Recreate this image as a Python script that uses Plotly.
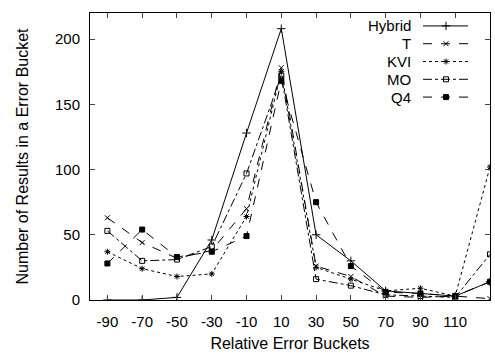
import plotly.graph_objects as go

buckets = [-90, -70, -50, -30, -10, 10, 30, 50, 70, 90, 110, 130]
tick_vals = [-90, -70, -50, -30, -10, 10, 30, 50, 70, 90, 110]
tick_text = ["-90", "-70", "-50", "-30", "-10", "10", "30", "50", "70", "90", "110"]

hybrid = [0, 0, 2, 46, 128, 208, 50, 30, 7, 5, 3, 14]
t_vals = [63, 44, 32, 38, 70, 178, 26, 18, 3, 2, 3, 1]
kvi = [37, 24, 18, 20, 64, 175, 25, 16, 7, 9, 3, 102]
mo = [53, 30, 31, 41, 97, 172, 16, 11, 4, 3, 2, 35]
q4 = [28, 54, 33, 37, 49, 168, 75, 26, 6, 5, 3, 14]

series = [
    ("Hybrid", hybrid, "solid", "cross-thin-open", 6),
    ("T", t_vals, "dash", "x-thin-open", 5),
    ("KVI", kvi, "dot", "asterisk-open", 5),
    ("MO", mo, "dashdot", "square-open", 5),
    ("Q4", q4, "dash", "square", 5),
]

fig = go.Figure()
for name, vals, dash, sym, size in series:
    fig.add_trace(go.Scatter(
        x=buckets, y=vals, name=name, mode="lines+markers", showlegend=False,
        line=dict(color="black", width=1, dash=dash),
        marker=dict(symbol=sym, size=size, color="black",
                    line=dict(color="black", width=1)),
    ))

# gnuplot-style key: label right-aligned, sample to its right (overlay axis 0..1)
key_top, key_step = 0.955, 0.062
for i, (name, vals, dash, sym, size) in enumerate(series):
    yk = key_top - i * key_step
    fig.add_trace(go.Scatter(
        x=[0.8325, 0.945], y=[yk, yk], xaxis="x2", yaxis="y2", mode="lines",
        showlegend=False, hoverinfo="skip",
        line=dict(color="black", width=1, dash=dash)))
    fig.add_trace(go.Scatter(
        x=[0.89], y=[yk], xaxis="x2", yaxis="y2", mode="markers",
        showlegend=False, hoverinfo="skip",
        marker=dict(symbol=sym, size=size, color="black",
                    line=dict(color="black", width=1))))
    fig.add_annotation(x=0.805, y=yk, xref="x2", yref="y2", text=name,
                       showarrow=False, xanchor="right", yanchor="middle",
                       font=dict(size=15), borderpad=0)

font = "Liberation Sans, Arial, sans-serif"
fig.update_layout(
    width=495, height=355,
    margin=dict(l=90, r=5, t=13, b=55),
    plot_bgcolor="white", paper_bgcolor="white",
    font=dict(family=font, size=15, color="black"),
    showlegend=False,
    xaxis=dict(range=[-100, 130], tickvals=tick_vals, ticktext=tick_text,
               ticks="inside", ticklen=5, showline=True, linecolor="black",
               linewidth=1, mirror="ticks", showgrid=False, zeroline=False,
               ticklabelstandoff=8, tickfont=dict(size=15),
               title=dict(text="Relative Error Buckets", standoff=8,
                          font=dict(size=16))),
    yaxis=dict(range=[0, 220], tickvals=[0, 50, 100, 150, 200],
               ticks="inside", ticklen=5, showline=True, linecolor="black",
               linewidth=1, mirror="ticks", showgrid=False, zeroline=False,
               ticklabelstandoff=6, tickfont=dict(size=15),
               title=dict(text="Number of Results in a Error Bucket",
                          standoff=22, font=dict(size=16))),
    xaxis2=dict(range=[0, 1], overlaying="x", visible=False, fixedrange=True),
    yaxis2=dict(range=[0, 1], overlaying="y", visible=False, fixedrange=True),
)

fig.write_html("out.html")
